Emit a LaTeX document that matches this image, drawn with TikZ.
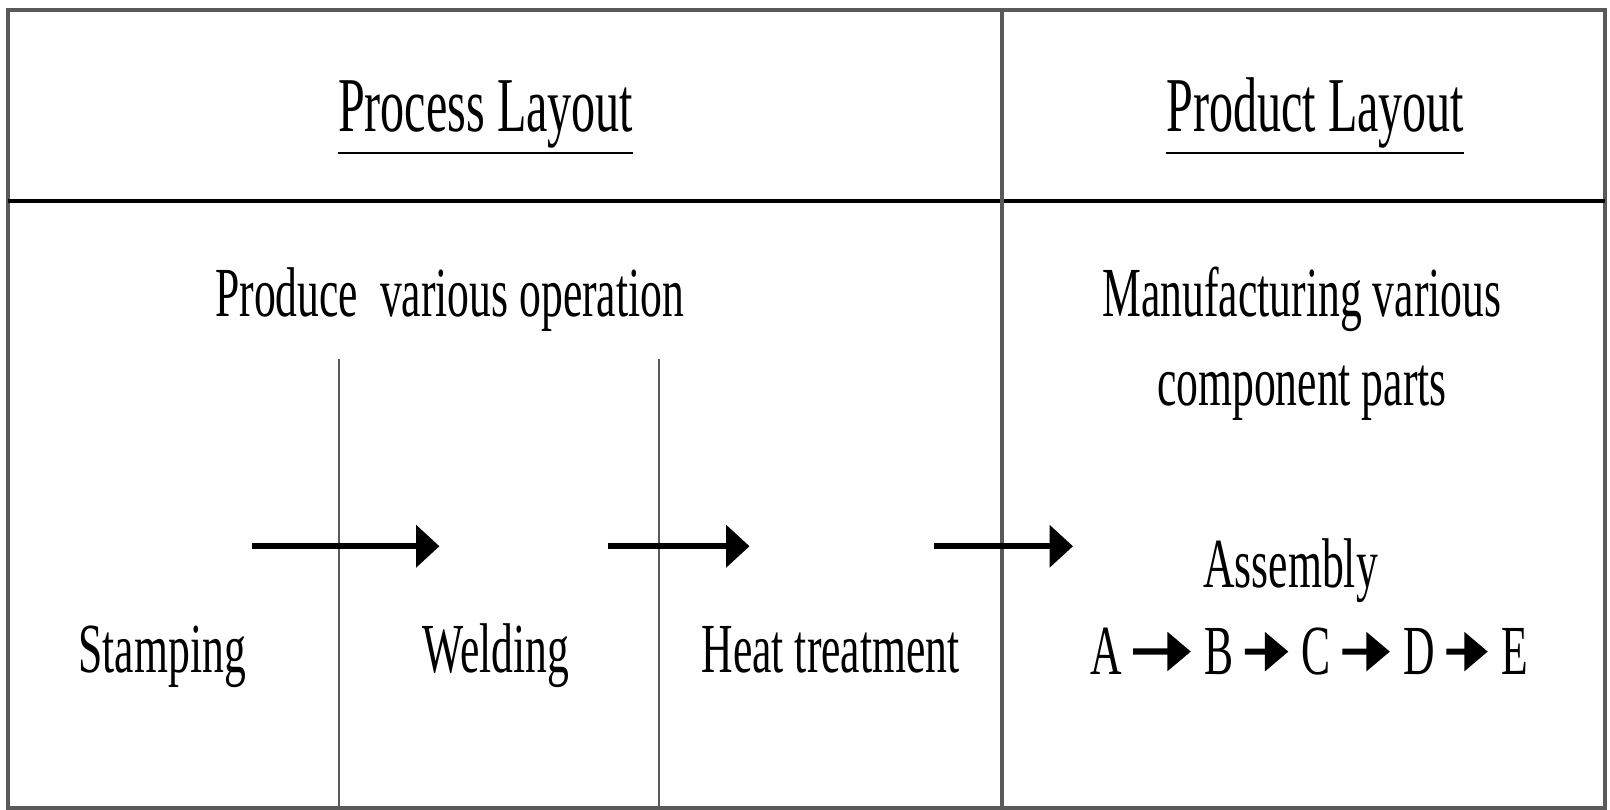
\documentclass[tikz,border=0pt]{standalone}
\usepackage{fontspec}
\setmainfont{Liberation Serif}[FakeStretch=0.62]
\usepackage{tikz}
\usetikzlibrary{arrows.meta}
\definecolor{dgray}{HTML}{595959}

\begin{document}
\begin{tikzpicture}[x=0.1mm,y=-0.1mm,>={Triangle[length=6.5pt,width=11.5pt]},
                    hdr/.style={anchor=base,font=\fontsize{21.5}{26}\selectfont},
                    lbl/.style={anchor=base,font=\fontsize{19.5}{24.8}\selectfont,align=center},
                    letter/.style={anchor=base,inner sep=1pt,font=\fontsize{19.5}{24}\selectfont},
                    bigarrow/.style={->,line width=1.6pt},
                    smallarrow/.style={-{Triangle[length=6.5pt,width=10.5pt]},line width=1.7pt,
                                       shorten <=2pt,shorten >=2.5pt}]
  \useasboundingbox (0,0) rectangle (1568,788);
  %\fill[white] (0,0) rectangle (1568,788);

  % table frame
  \draw[dgray, line width=1pt] (8,10) rectangle (1563,787);
  \draw[black, line width=1.2pt] (8,196) -- (1563,196);
  \draw[dgray, line width=1pt] (976,10) -- (976,787);
  \draw[dgray, line width=0.7pt] (330,350) -- (330,787);
  \draw[dgray, line width=0.7pt] (642,350) -- (642,787);

  % headers
  \node[hdr] (proc) at (473,128) {\underline{Process Layout}};
  \node[hdr] (prod) at (1281,128) {\underline{Product Layout}};

  % left column
  \node[lbl] (ops) at (438,308) {Produce\ \ various operation};
  \node[lbl] (stamp) at (158,655) {Stamping};
  \node[lbl] (weld) at (483,655) {Welding};
  \node[lbl] (heat) at (809,655) {Heat treatment};

  \coordinate (s1) at (245,532);
  \coordinate (e1) at (428,532);
  \coordinate (s2) at (592,532);
  \coordinate (e2) at (730,532);
  \coordinate (s3) at (910,532);
  \coordinate (e3) at (1045,532);

  \path (s1) edge[bigarrow] (e1)
        (s2) edge[bigarrow] (e2)
        (s3) edge[bigarrow] (e3);

  % right column
  \node[lbl] (manu) at (1268,395) {Manufacturing various\\component parts};
  \node[lbl] (asm) at (1257,572) {Assembly};

  \node[letter] (A) at (1077,657) {A};
  \node[letter] (B) at (1187,657) {B};
  \node[letter] (C) at (1282,657) {C};
  \node[letter] (D) at (1382,657) {D};
  \node[letter] (E) at (1475,657) {E};

  \path (A) edge[smallarrow] (B)
        (B) edge[smallarrow] (C)
        (C) edge[smallarrow] (D)
        (D) edge[smallarrow] (E);
\end{tikzpicture}
\end{document}
